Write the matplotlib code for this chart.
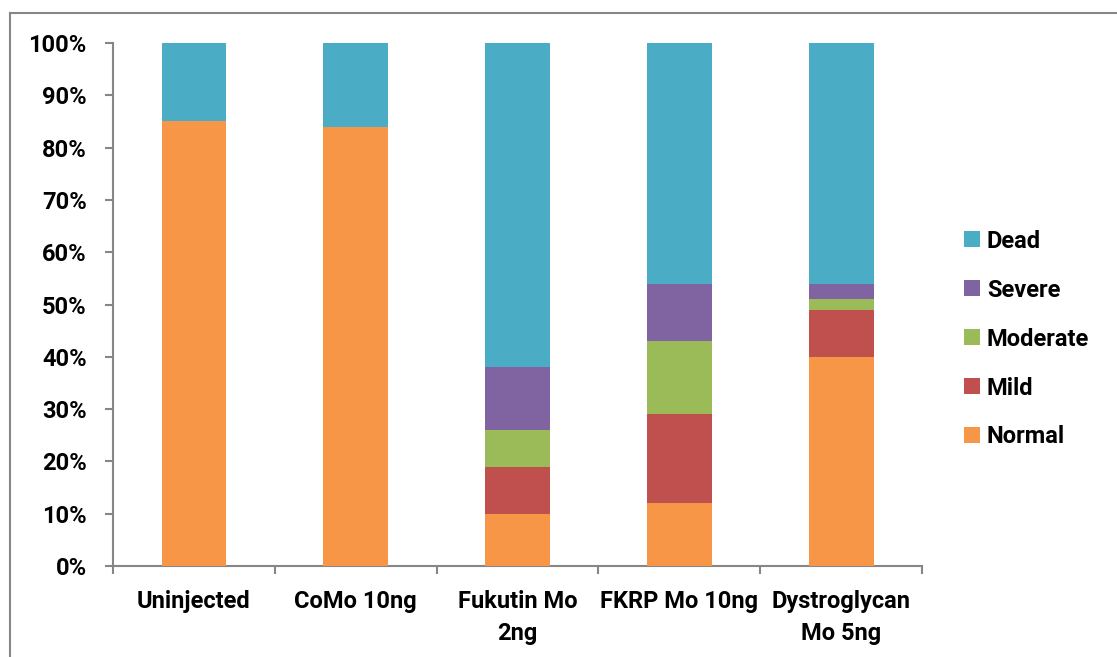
import matplotlib.pyplot as plt
from matplotlib.lines import Line2D
from matplotlib.ticker import FixedLocator, PercentFormatter
import numpy as np

# data (percent of embryos)
groups = ["Uninjected", "CoMo 10ng", "Fukutin Mo\n2ng", "FKRP Mo 10ng", "Dystroglycan\nMo 5ng"]
normal = [85, 84, 10, 12, 40]
mild = [0, 0, 9, 17, 9]
moderate = [0, 0, 7, 14, 2]
severe = [0, 0, 12, 11, 3]
dead = [15, 16, 62, 46, 46]

series = [("Normal", normal, "#F79646"),
          ("Mild", mild, "#C0504D"),
          ("Moderate", moderate, "#9BBB59"),
          ("Severe", severe, "#8064A2"),
          ("Dead", dead, "#4BACC6")]

plt.rcParams['font.family'] = ['Roboto', 'DejaVu Sans']
plt.rcParams['font.weight'] = 'bold'
fs = 17

fig = plt.figure(figsize=(11.17, 6.57), dpi=100)
ax = fig.add_axes([0.1012, 0.1385, 0.7243, 0.796])

x = np.arange(len(groups))
bottom = np.zeros(len(groups))
handles = []
for name, vals, col in series:
    b = ax.bar(x, vals, 0.4, bottom=bottom, color=col, label=name, zorder=3)
    bottom += np.array(vals)
    handles.append(b)

ax.set_xlim(-0.5, len(groups) - 0.5)
ax.set_ylim(0, 100)
ax.yaxis.set_major_locator(FixedLocator(range(0, 101, 10)))
ax.yaxis.set_major_formatter(PercentFormatter(decimals=0))

ax.set_xticks(x)
ax.set_xticklabels(groups, fontsize=fs, fontweight='bold', linespacing=1.5)
ax.set_xticks(np.arange(-0.5, len(groups), 1), minor=True)
ax.tick_params(axis='x', which='major', length=0, pad=17)
ax.tick_params(axis='x', which='minor', length=6, color='#868686', width=1.5)
ax.tick_params(axis='y', length=6, color='#868686', width=1.5, labelsize=fs, pad=13)
for lab in ax.get_yticklabels():
    lab.set_fontweight('bold')

for s in ['top', 'right']:
    ax.spines[s].set_visible(False)
for s in ['left', 'bottom']:
    ax.spines[s].set_color('#868686')
    ax.spines[s].set_linewidth(1.5)

leg = ax.legend(handles[::-1], [s[0] for s in series][::-1], loc='center left',
                bbox_to_anchor=(1.026, 0.434), frameon=False,
                prop={'weight': 'bold', 'size': fs}, handlelength=0.65,
                handleheight=0.65, handletextpad=0.3, labelspacing=1.1)

# outer chart border (top and left)
fig.add_artist(Line2D([10 / 1117, 1], [1 - 13 / 657, 1 - 13 / 657], color='#868686', lw=1.5))
fig.add_artist(Line2D([10 / 1117, 10 / 1117], [0, 1 - 13 / 657], color='#868686', lw=1.5))

fig.savefig("out.png", dpi=100)
